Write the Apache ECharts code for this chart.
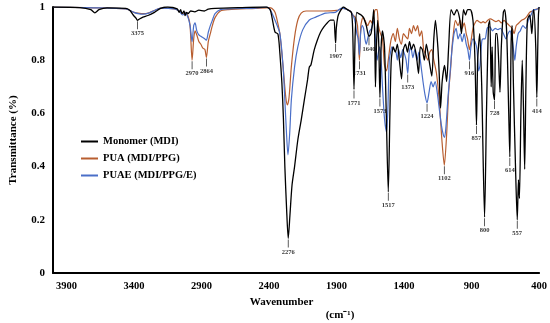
<!DOCTYPE html>
<html><head><meta charset="utf-8">
<script src="https://cdn.jsdelivr.net/npm/echarts@6/dist/echarts.min.js"></script>
<style>html,body{margin:0;padding:0;background:#fff}#c{width:550px;height:323px}</style>
</head><body><div id="c"></div>
<script>
// ---- data ----
const seriesNames = ['Monomer (MDI)', 'PUA (MDI/PPG)', 'PUAE (MDI/PPG/E)'];
const xTickValues = [3900, 3400, 2900, 2400, 1900, 1400, 900, 400];

const mdiWn = [4000,3800,3720,3690,3660,3600,3460,3430,3406,3384,3375,3360,3334,3297,3249,3203,3150,3080,3066,3055,3044,3030,3022,3010,3000,2980,2950,2920,2880,2850,2800,2600,2420,2392,2378,2356,2334,2320,2305,2294,2283,2270,2258,2245,2230,2211,2187,2162,2139,2115,2102,2090,2066,2042,2018,1994,1970,1946,1921,1912,1907,1902,1890,1878,1849,1820,1790,1780,1771,1762,1750,1735,1718,1700,1680,1660,1645,1632,1625,1618,1612,1605,1595,1587,1579,1570,1560,1545,1532,1517,1505,1495,1480,1465,1450,1435,1419,1405,1390,1375,1360,1345,1330,1310,1293,1280,1265,1250,1235,1215,1195,1180,1168,1150,1140,1130,1118,1100,1085,1070,1052,1030,1010,990,975,960,945,930,910,890,875,864,855,840,825,804,790,775,765,755,748,740,730,722,712,700,690,680,665,655,640,625,617,608,600,590,575,562,553,546,535,525,515,507,498,487,470,458,454,445,439,425,417,410,405,400];
const mdiT = [1.0,0.998,0.99,0.978,0.99,0.997,0.995,0.987,0.97,0.957,0.95,0.955,0.962,0.968,0.98,0.995,1.0,0.993,0.98,0.99,0.975,0.985,0.968,0.98,0.975,0.985,0.982,0.988,0.985,0.992,0.995,0.998,1.0,0.99,0.96,0.906,0.898,0.827,0.714,0.586,0.40,0.24,0.13,0.22,0.33,0.40,0.50,0.575,0.65,0.726,0.774,0.782,0.838,0.876,0.906,0.925,0.94,0.951,0.951,0.90,0.865,0.92,0.965,0.98,1.0,0.99,0.98,0.90,0.69,0.90,0.98,0.975,0.97,0.96,0.93,0.89,0.90,0.95,0.99,0.90,0.70,0.85,0.95,0.85,0.66,0.85,0.91,0.85,0.60,0.305,0.60,0.80,0.85,0.83,0.86,0.80,0.73,0.84,0.86,0.83,0.87,0.84,0.86,0.82,0.75,0.85,0.84,0.80,0.86,0.80,0.74,0.88,0.95,0.85,0.75,0.62,0.72,0.78,0.72,0.85,0.99,0.97,0.99,0.96,0.90,0.99,0.97,0.99,0.99,0.95,0.80,0.556,0.80,0.90,0.70,0.21,0.60,0.93,0.95,0.70,0.85,0.68,0.65,0.90,0.90,0.80,0.68,0.85,0.98,0.99,0.90,0.60,0.436,0.85,0.93,0.70,0.40,0.20,0.35,0.28,0.60,0.80,0.60,0.39,0.70,0.95,0.97,0.92,0.90,0.97,0.99,0.85,0.66,0.85,0.97,1.0];

const puaWn = [4000,3700,3460,3430,3400,3370,3330,3297,3249,3203,3100,3066,3040,3020,3000,2985,2970,2958,2948,2935,2920,2905,2890,2875,2864,2850,2835,2820,2800,2760,2700,2500,2400,2380,2356,2340,2320,2296,2276,2264,2252,2235,2211,2187,2162,2126,2000,1900,1849,1800,1780,1760,1745,1731,1720,1705,1690,1670,1650,1640,1625,1612,1600,1590,1575,1560,1545,1530,1517,1505,1495,1480,1465,1450,1435,1420,1405,1390,1373,1360,1345,1330,1315,1300,1285,1270,1255,1240,1224,1210,1195,1180,1160,1140,1120,1102,1085,1070,1055,1045,1035,1020,1000,985,970,955,940,930,916,905,890,875,860,845,830,815,800,780,760,740,720,700,680,660,640,620,600,585,570,550,530,510,490,470,450,430,400];
const puaT = [1.0,0.997,0.993,0.987,0.98,0.977,0.975,0.977,0.987,0.996,0.993,0.985,0.975,0.98,0.965,0.93,0.80,0.88,0.91,0.895,0.87,0.86,0.845,0.84,0.81,0.87,0.90,0.93,0.96,0.985,0.99,0.995,0.998,0.995,0.98,0.95,0.90,0.775,0.66,0.632,0.66,0.775,0.887,0.951,0.977,0.985,0.985,0.987,0.995,0.985,0.97,0.96,0.93,0.80,0.93,0.96,0.95,0.93,0.95,0.94,0.97,0.99,0.99,0.93,0.90,0.88,0.78,0.76,0.80,0.85,0.88,0.90,0.87,0.92,0.88,0.86,0.90,0.89,0.88,0.92,0.90,0.93,0.91,0.93,0.89,0.91,0.84,0.82,0.80,0.83,0.84,0.80,0.75,0.65,0.50,0.405,0.52,0.68,0.77,0.85,0.90,0.95,0.93,0.95,0.92,0.94,0.90,0.88,0.84,0.87,0.92,0.94,0.95,0.945,0.94,0.945,0.94,0.95,0.955,0.95,0.945,0.95,0.94,0.95,0.94,0.93,0.92,0.90,0.93,0.94,0.95,0.955,0.965,0.98,0.985,0.99,0.995];

const puaeWn = [4000,3700,3460,3430,3400,3370,3330,3297,3249,3203,3100,3066,3040,3020,3000,2985,2970,2958,2948,2935,2920,2905,2890,2875,2864,2850,2835,2820,2800,2760,2700,2500,2420,2392,2356,2320,2296,2283,2271,2260,2247,2235,2211,2187,2151,2102,2054,1981,1909,1861,1800,1780,1765,1750,1740,1731,1722,1710,1700,1690,1680,1670,1655,1640,1625,1612,1600,1590,1580,1570,1560,1545,1530,1520,1510,1500,1490,1475,1460,1450,1440,1425,1410,1395,1385,1373,1362,1350,1335,1320,1305,1290,1275,1260,1245,1230,1215,1200,1185,1170,1155,1140,1125,1110,1100,1090,1075,1060,1045,1030,1015,1000,985,970,955,940,928,916,905,890,875,860,848,838,825,815,800,785,765,745,725,705,685,665,645,630,615,600,590,580,570,555,540,520,500,480,460,440,420,400];
const puaeT = [1.0,0.997,0.993,0.987,0.98,0.975,0.973,0.976,0.987,0.996,0.993,0.985,0.97,0.978,0.96,0.93,0.87,0.93,0.94,0.91,0.895,0.89,0.885,0.88,0.875,0.905,0.93,0.95,0.975,0.99,0.993,0.996,1.0,0.99,0.95,0.90,0.775,0.65,0.526,0.444,0.526,0.65,0.775,0.85,0.914,0.951,0.962,0.977,0.98,0.996,0.985,0.97,0.95,0.90,0.88,0.82,0.90,0.93,0.92,0.88,0.86,0.88,0.91,0.92,0.95,0.88,0.80,0.83,0.85,0.80,0.70,0.58,0.53,0.62,0.80,0.83,0.85,0.84,0.83,0.80,0.84,0.81,0.84,0.82,0.80,0.75,0.83,0.85,0.81,0.84,0.80,0.83,0.78,0.72,0.67,0.64,0.68,0.72,0.70,0.72,0.68,0.62,0.56,0.52,0.51,0.55,0.66,0.75,0.84,0.90,0.92,0.88,0.90,0.87,0.90,0.86,0.84,0.80,0.85,0.88,0.87,0.84,0.76,0.78,0.87,0.88,0.88,0.92,0.925,0.91,0.92,0.915,0.92,0.90,0.88,0.90,0.91,0.88,0.84,0.80,0.85,0.90,0.91,0.93,0.92,0.95,0.97,0.99,0.99,1.0];

const peakText = ['3375','2970','2864','2276','1907','1771','1731','1640','1573','1517','1373','1224','1102','916','857','800','728','614','557','414'];
const peakWn   = [3375,2970,2864,2258,1907,1771,1731,1660,1579,1517,1373,1230,1102,916,864,804,730,617,562,417];
const peakT    = [0.95,0.80,0.81,0.13,0.865,0.69,0.80,0.89,0.66,0.305,0.75,0.64,0.405,0.80,0.556,0.21,0.65,0.436,0.20,0.66];

// ---- chart ----
const font = '"Liberation Serif","Times New Roman",serif';
const colors = ['#000000', '#b85e30', '#4a6fc8'];
function zip(a, b) { return a.map((v, i) => [v, b[i]]); }
const chart = echarts.init(document.getElementById('c'), null, {renderer: 'canvas'});
const lineData = [zip(mdiWn, mdiT), zip(puaWn, puaT), zip(puaeWn, puaeT)];
const zs = [5, 3, 4];
const widths = [1.3, 1.2, 1.2];
const series = seriesNames.map((n, i) => ({
  name: n, type: 'line', data: lineData[i], showSymbol: false, symbol: 'none',
  smooth: 0.25, z: zs[i], color: colors[i],
  lineStyle: {color: colors[i], width: widths[i]}, emphasis: {disabled: true}
}));
series.push({
  name: 'peaks', type: 'scatter', z: 10, silent: true,
  data: zip(peakWn, peakT),
  symbol: 'rect', symbolSize: [0.8, 8], symbolOffset: [0, 5],
  itemStyle: {color: '#000'},
  label: {show: true, position: 'bottom', distance: 1,
    formatter: p => peakText[p.dataIndex],
    fontFamily: font, fontWeight: 'bold', fontSize: 6.5, color: '#000'},
  emphasis: {disabled: true}
});
chart.setOption({
  animation: false,
  backgroundColor: '#fff',
  grid: {left: 43, right: 10, top: 7, bottom: 50},
  legend: {
    data: seriesNames, orient: 'vertical', left: 76, top: 130,
    icon: 'rect', itemWidth: 17, itemHeight: 2, itemGap: 4,
    textStyle: {fontFamily: font, fontWeight: 'bold', fontSize: 10.5, color: '#000', lineHeight: 13}
  },
  xAxis: {
    type: 'value', min: 400, max: 4000, interval: 500, inverse: true,
    axisLine: {show: true, lineStyle: {color: '#000', width: 2}},
    axisTick: {show: false}, splitLine: {show: false},
    axisLabel: {fontFamily: font, fontWeight: 'bold', fontSize: 10.5, color: '#000', margin: 8,
      formatter: v => xTickValues.indexOf(v) >= 0 ? String(v) : ''},
    name: 'Wavenumber', nameLocation: 'middle', nameGap: 18,
    nameTextStyle: {fontFamily: font, fontWeight: 'bold', fontSize: 11, color: '#000', padding: [0, 29, 0, 0]}
  },
  yAxis: {
    type: 'value', min: 0, max: 1, interval: 0.2,
    axisLine: {show: true, lineStyle: {color: '#000', width: 2}},
    axisTick: {show: false}, splitLine: {show: false},
    axisLabel: {fontFamily: font, fontWeight: 'bold', fontSize: 11, color: '#000', margin: 8},
    name: 'Transmittance (%)', nameLocation: 'middle', nameGap: 34, nameRotate: 90,
    nameTextStyle: {fontFamily: font, fontWeight: 'bold', fontSize: 11, color: '#000'}
  },
  graphic: [{
    type: 'text', x: 340, y: 315,
    style: {text: '(cm\u207B\u00B9)', fontFamily: font, fontWeight: 'bold', fontSize: 11,
      fill: '#000', align: 'center', verticalAlign: 'middle'}
  }],
  series: series
});
</script></body></html>
